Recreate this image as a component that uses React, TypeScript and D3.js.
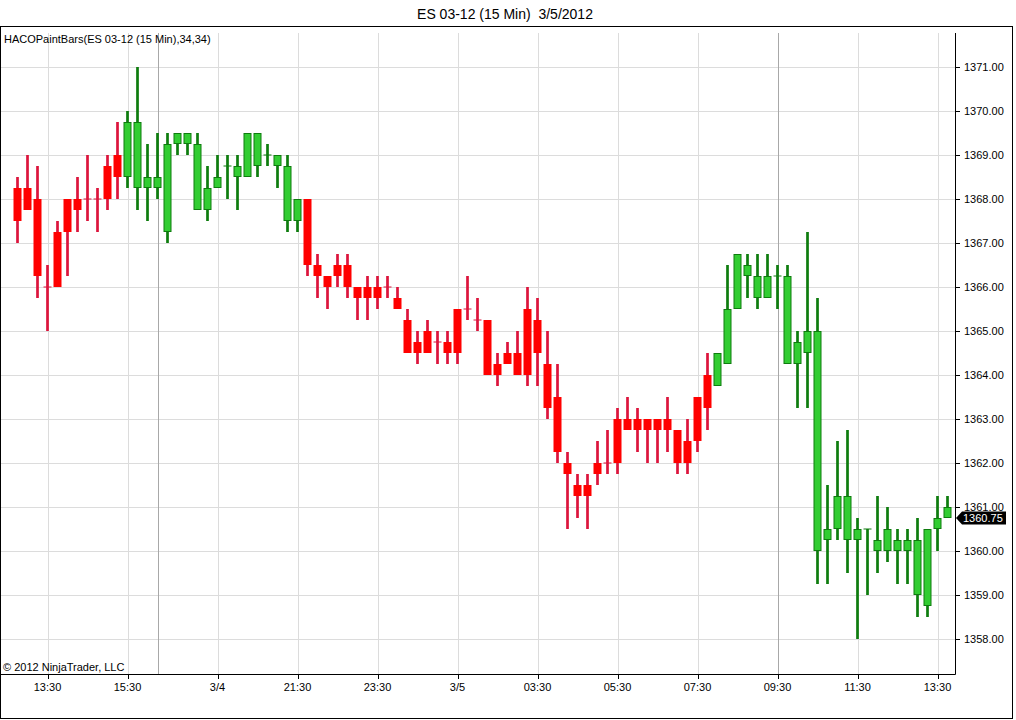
import React from "react";
import * as d3 from "d3";

// ---- data ----
const opens = [
  1368.25, 1368.25, 1368.0, 1366.0, 1367.25, 1368.0, 1368.0, 1368.0, 1368.0, 1368.75,
  1369.0, 1368.5, 1368.25, 1368.25, 1368.25, 1367.25, 1369.25, 1369.25, 1367.75, 1367.75,
  1368.25, 1368.75, 1368.5, 1368.5, 1368.75, 1369.0, 1368.75, 1367.5, 1367.5, 1368.0,
  1366.5, 1366.25, 1366.5, 1366.5, 1366.0, 1366.0, 1366.0, 1366.0, 1365.75, 1365.25,
  1364.75, 1365.0, 1364.75, 1364.75, 1365.5, 1365.5, 1365.25, 1365.25, 1364.25, 1364.5,
  1364.5, 1365.5, 1365.25, 1364.25, 1363.5, 1362.0, 1361.5, 1361.5, 1362.0, 1362.0,
  1363.0, 1363.0, 1363.0, 1363.0, 1363.0, 1363.0, 1362.75, 1362.5, 1363.5, 1364.0,
  1363.75, 1364.25, 1365.5, 1366.25, 1365.75, 1365.75, 1366.25, 1364.25, 1364.25, 1364.5,
  1360.0, 1360.25, 1360.5, 1360.25, 1360.25, 1360.5, 1360.0, 1360.0, 1360.0, 1360.0,
  1359.0, 1358.75, 1360.5, 1360.75,
];
const highs = [
  1368.5, 1369.0, 1368.75, 1366.5, 1367.5, 1368.0, 1368.5, 1369.0, 1368.25, 1369.0,
  1369.75, 1370.0, 1371.0, 1369.25, 1369.5, 1369.5, 1369.5, 1369.5, 1369.5, 1368.75,
  1369.0, 1369.0, 1369.0, 1369.5, 1369.5, 1369.25, 1369.0, 1369.0, 1368.0, 1368.0,
  1366.75, 1366.25, 1366.75, 1366.75, 1366.0, 1366.25, 1366.25, 1366.25, 1366.0, 1365.5,
  1365.0, 1365.25, 1365.0, 1365.0, 1365.5, 1366.25, 1365.75, 1365.25, 1364.5, 1364.75,
  1365.0, 1366.0, 1365.75, 1365.0, 1364.25, 1362.25, 1361.75, 1361.75, 1362.5, 1362.75,
  1363.25, 1363.5, 1363.25, 1363.0, 1363.0, 1363.5, 1362.75, 1363.0, 1363.5, 1364.5,
  1364.5, 1366.5, 1366.75, 1366.75, 1366.75, 1366.75, 1366.5, 1366.5, 1365.0, 1367.25,
  1365.75, 1361.5, 1362.5, 1362.75, 1360.75, 1360.5, 1361.25, 1361.0, 1360.5, 1360.5,
  1360.75, 1360.5, 1361.25, 1361.25,
];
const lows = [
  1367.0, 1367.75, 1365.75, 1365.0, 1366.0, 1366.25, 1367.25, 1367.5, 1367.25, 1367.75,
  1368.0, 1368.25, 1367.75, 1367.5, 1368.0, 1367.0, 1369.0, 1369.0, 1367.75, 1367.5,
  1368.25, 1368.0, 1367.75, 1368.5, 1368.5, 1368.75, 1368.25, 1367.25, 1367.25, 1366.25,
  1365.75, 1365.5, 1366.0, 1365.75, 1365.25, 1365.25, 1365.5, 1365.75, 1365.5, 1364.5,
  1364.25, 1364.5, 1364.25, 1364.25, 1364.25, 1365.25, 1365.0, 1364.0, 1363.75, 1364.25,
  1364.0, 1363.75, 1363.75, 1363.0, 1362.0, 1360.5, 1360.75, 1360.5, 1361.5, 1361.75,
  1361.75, 1362.75, 1362.25, 1362.0, 1362.0, 1362.25, 1361.75, 1361.75, 1362.25, 1362.75,
  1363.75, 1364.25, 1365.5, 1365.75, 1365.5, 1365.75, 1365.5, 1364.25, 1363.25, 1363.25,
  1359.25, 1359.25, 1360.25, 1359.5, 1358.0, 1359.0, 1359.5, 1359.75, 1359.25, 1359.25,
  1358.5, 1358.5, 1360.0, 1360.75,
];
const closes = [
  1367.5, 1367.75, 1366.25, 1366.0, 1366.0, 1367.25, 1367.75, 1368.0, 1368.0, 1368.0,
  1368.5, 1369.75, 1369.75, 1368.5, 1368.5, 1369.25, 1369.5, 1369.5, 1369.25, 1368.25,
  1368.5, 1368.75, 1368.75, 1369.5, 1369.5, 1369.0, 1369.0, 1368.75, 1368.0, 1366.5,
  1366.25, 1366.0, 1366.25, 1366.0, 1365.75, 1365.75, 1365.75, 1366.0, 1365.5, 1364.5,
  1364.5, 1364.5, 1364.75, 1364.5, 1364.5, 1365.5, 1365.25, 1364.0, 1364.0, 1364.25,
  1364.0, 1364.0, 1364.5, 1363.25, 1362.25, 1361.75, 1361.25, 1361.25, 1361.75, 1362.0,
  1362.0, 1362.75, 1362.75, 1362.75, 1362.75, 1362.75, 1362.0, 1362.0, 1362.5, 1363.25,
  1364.5, 1365.5, 1366.75, 1366.5, 1366.25, 1366.25, 1366.25, 1366.25, 1364.75, 1365.0,
  1365.0, 1360.5, 1361.25, 1361.25, 1360.5, 1360.5, 1360.25, 1360.5, 1360.25, 1360.25,
  1360.25, 1360.5, 1360.75, 1361.0,
];
// HACO paint signal per bar: R = red, G = green
const signals = (
  "RRRRRRRRRRR" +
  "GGGGGGGGGGGGGGGGGG" +
  "RRRRRRRRRRRRRRRRRRRRRRRRRRRRRRRRRRRRRRRRR" +
  "GGGGGGGGGGGGGGGGGGGGGGGG"
).split("");

const timeTickIndex = [3, 11, 20, 28, 36, 44, 52, 60, 68, 76, 84, 92];
const timeTickLabels = ["13:30", "15:30", "3/4", "21:30", "23:30", "3/5", "03:30", "05:30", "07:30", "09:30", "11:30", "13:30"];
const sessionBreakIndex = [14, 76];
const priceTicks = [1358, 1359, 1360, 1361, 1362, 1363, 1364, 1365, 1366, 1367, 1368, 1369, 1370, 1371];
const lastPrice = 1360.75;

const titleText = "ES 03-12 (15 Min)  3/5/2012";
const indicatorText = "HACOPaintBars(ES 03-12 (15 Min),34,34)";
const copyrightText = "\u00A9 2012 NinjaTrader, LLC";

// ---- layout ----
const W = 1016;
const H = 720;
const plotL = 1;
const plotT = 33;
const plotR = 955;
const plotB = 674;
const FONT = "Arial, 'Liberation Sans', sans-serif";

const RED_BODY = "#FF0000";
const RED_WICK = "#DC143C";
const GREEN_BODY = "#32CD32";
const GREEN_LINE = "#0E7C0E";

export default function App() {
  const n = opens.length;
  const x = d3
    .scaleBand<number>()
    .domain(d3.range(n))
    .range([12.5, 952.5])
    .paddingInner(0)
    .paddingOuter(0);
  const cx = (i: number) => (x(i) as number) + x.bandwidth() / 2;
  const y = d3.scaleLinear().domain([1358, 1371]).range([639, 67]);
  const fmt = d3.format(".2f");

  const bodyW = 8;
  const wickW = 2.7;

  const ly = y(lastPrice);

  return (
    <svg
      width={W}
      height={H}
      style={{ position: "absolute", left: 0, top: 0, background: "#fff" }}
      fontFamily={FONT}
    >
      <rect x={0} y={0} width={W} height={H} fill="#fff" />
      <defs>
        <clipPath id="plotclip">
          <rect x={plotL} y={plotT} width={plotR - plotL} height={plotB - plotT} />
        </clipPath>
      </defs>

      {/* title */}
      <text x={505} y={19} fontSize={14} textAnchor="middle" fill="#000" style={{ whiteSpace: "pre" }}>
        {titleText}
      </text>

      {/* grid */}
      <g clipPath="url(#plotclip)">
        {priceTicks.map((p) => (
          <line key={"h" + p} x1={plotL} x2={plotR} y1={Math.round(y(p)) + 0.5} y2={Math.round(y(p)) + 0.5} stroke="#DCDCDC" strokeWidth={1} />
        ))}
        {timeTickIndex.map((i) => (
          <line key={"v" + i} x1={Math.round(cx(i)) + 0.5} x2={Math.round(cx(i)) + 0.5} y1={plotT} y2={plotB} stroke="#DCDCDC" strokeWidth={1} />
        ))}
        {sessionBreakIndex.map((i) => (
          <line key={"s" + i} x1={Math.round(cx(i)) + 0.5} x2={Math.round(cx(i)) + 0.5} y1={plotT} y2={plotB} stroke="#A8A8A8" strokeWidth={1} />
        ))}
      </g>

      {/* candles */}
      <g clipPath="url(#plotclip)">
        {opens.map((o, i) => {
          const c = closes[i];
          const hi = highs[i];
          const lo = lows[i];
          const green = signals[i] === "G";
          const wick = green ? GREEN_LINE : RED_WICK;
          const top = y(Math.max(o, c));
          const bot = y(Math.min(o, c));
          const xc = cx(i);
          const isDoji = o === c;
          return (
            <g key={i}>
              <rect x={xc - wickW / 2} y={y(hi)} width={wickW} height={y(lo) - y(hi)} fill={wick} />
              {isDoji ? (
                <line x1={xc - bodyW / 2} x2={xc + bodyW / 2} y1={top} y2={top} stroke={wick} strokeWidth={1} />
              ) : green ? (
                <rect x={xc - bodyW / 2 + 0.5} y={top + 0.5} width={bodyW - 1} height={bot - top - 1} fill={GREEN_BODY} stroke={GREEN_LINE} strokeWidth={1} />
              ) : (
                <rect x={xc - bodyW / 2} y={top} width={bodyW} height={bot - top} fill={RED_BODY} />
              )}
            </g>
          );
        })}
      </g>

      {/* indicator label and copyright */}
      <text x={4} y={43} fontSize={11} fill="#000">
        {indicatorText}
      </text>
      <text x={3} y={671} fontSize={11} fill="#000">
        {copyrightText}
      </text>

      {/* axes */}
      <line x1={0} x2={plotR + 0.5} y1={plotB + 0.5} y2={plotB + 0.5} stroke="#000" strokeWidth={1} />
      <line x1={plotR + 0.5} x2={plotR + 0.5} y1={plotT} y2={plotB + 0.5} stroke="#000" strokeWidth={1} />
      {timeTickIndex.map((i, k) => (
        <g key={"xt" + i}>
          <line x1={Math.round(cx(i)) + 0.5} x2={Math.round(cx(i)) + 0.5} y1={plotB} y2={plotB + 5} stroke="#000" strokeWidth={1} />
          <text x={cx(i)} y={691} fontSize={11} textAnchor="middle" fill="#000">
            {timeTickLabels[k]}
          </text>
        </g>
      ))}
      {priceTicks.map((p) => (
        <g key={"yt" + p}>
          <line x1={plotR} x2={plotR + 5} y1={Math.round(y(p)) + 0.5} y2={Math.round(y(p)) + 0.5} stroke="#000" strokeWidth={1} />
          <text x={964} y={y(p) + 4} fontSize={11} fill="#000">
            {fmt(p)}
          </text>
        </g>
      ))}

      {/* last price marker */}
      <path
        d={`M${plotR + 1},${ly} L${plotR + 7},${ly - 6.5} L1006,${ly - 6.5} L1006,${ly + 6.5} L${plotR + 7},${ly + 6.5} Z`}
        fill="#000"
      />
      <text x={963} y={ly + 4} fontSize={11} fill="#fff">
        {fmt(lastPrice)}
      </text>

      {/* outer frame */}
      <rect x={0.5} y={26.5} width={1012} height={692} fill="none" stroke="#000" strokeWidth={1} />
    </svg>
  );
}
